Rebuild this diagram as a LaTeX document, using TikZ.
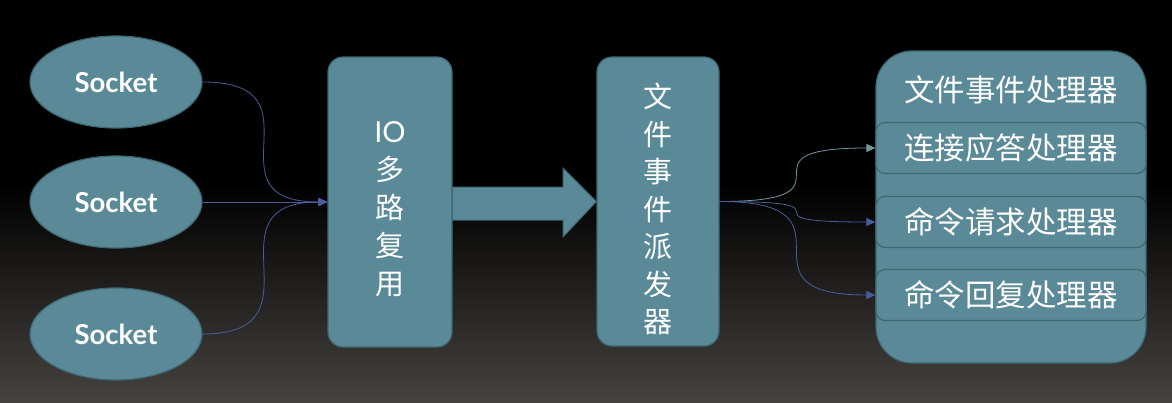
\documentclass[tikz,border=0pt]{standalone}
\usepackage{fontspec}
\setmainfont{Lato}
\newfontfamily\cjk{Noto Sans CJK SC}
\usetikzlibrary{arrows.meta,shapes.geometric}
\definecolor{boxfill}{HTML}{5A8997}
\definecolor{boxline}{HTML}{3F6773}
\definecolor{conblue}{HTML}{4A5D9A}
\definecolor{conteal}{HTML}{6F999E}
\definecolor{bgbot}{HTML}{45423F}
\tikzset{
  sock/.style={ellipse, draw=boxline, line width=1.2pt, fill=boxfill, minimum width=172pt, minimum height=92pt, text=white, font=\bfseries\fontsize{27.5}{30}\selectfont},
  tallbox/.style={rectangle, rounded corners=15pt, draw=boxline, line width=1.2pt, fill=boxfill},
  vtext/.style={text=white, align=center, font=\cjk\fontsize{29}{38}\selectfont},
  bigbox/.style={rectangle, rounded corners=36pt, draw=boxline, line width=1.2pt, fill=boxfill, minimum width=270pt, minimum height=312pt},
  subbox/.style={rectangle, rounded corners=9pt, draw=boxline, line width=1.2pt, fill=boxfill, minimum width=270pt, minimum height=51pt, text=white, font=\cjk\fontsize{30.5}{32}\selectfont},
  title/.style={text=white, font=\cjk\fontsize{30.5}{32}\selectfont},
  conn/.style={draw=conblue, line width=0.8pt, -{Triangle[length=9pt,width=8pt]}},
  connt/.style={conn, draw=conteal, -{Triangle[length=9pt,width=8pt,fill=conteal]}},
  bigarrow/.style={fill=boxfill, draw=boxline, line width=1pt},
}
\begin{document}
\begin{tikzpicture}[x=1pt,y=-1pt]
\useasboundingbox (0,0) rectangle (1172,402);
\fill[black] (0,0) rectangle (1172,402);
\shade[top color=black, bottom color=bgbot] (0,185) rectangle (1172,402);

\node[sock] (s1) at (116,82) {Socket};
\node[sock] (s2) at (116,202) {Socket};
\node[sock] (s3) at (116,334) {Socket};

\node[tallbox, minimum width=124pt, minimum height=290pt] (io) at (390,202) {};
\node[vtext] (iotext) at (390,209) {\fontspec{Lato}IO\\多\\路\\复\\用};

\node[tallbox, minimum width=122pt, minimum height=289pt] (disp) at (658,201.5) {};
\node[vtext, font=\cjk\fontsize{29}{37.5}\selectfont] (disptext) at (658,209)
  {文\\件\\事\\件\\派\\发\\器};

\coordinate (ah1) at (452,187);
\draw[bigarrow] (io.east |- ah1) -- (563,187) -- (563,168) -- (disp.west) -- (563,237) -- (563,220) -- (io.east |- 0,220) -- cycle;

\node[bigbox] (hb) at (1011,207) {};
\node[title] (ht) at (1011,90) {文件事件处理器};
\node[subbox] (h1) at (1011,148) {连接应答处理器};
\node[subbox] (h2) at (1011,222) {命令请求处理器};
\node[subbox] (h3) at (1011,295) {命令回复处理器};

\draw[conn] (s1.east) .. controls +(125,0) and +(-125,0) .. (io.west);
\draw[conn] (s2.east) -- (io.west);
\draw[conn] (s3.east) .. controls +(125,0) and +(-125,0) .. (io.west);

\draw[connt] (disp.east) .. controls +(150,0) and +(-150,0) .. (h1.west);
\draw[conn] (disp.east) .. controls +(150,0) and +(-150,0) .. (h2.west);
\draw[conn] (disp.east) .. controls +(150,0) and +(-150,0) .. (h3.west);
\end{tikzpicture}
\end{document}
